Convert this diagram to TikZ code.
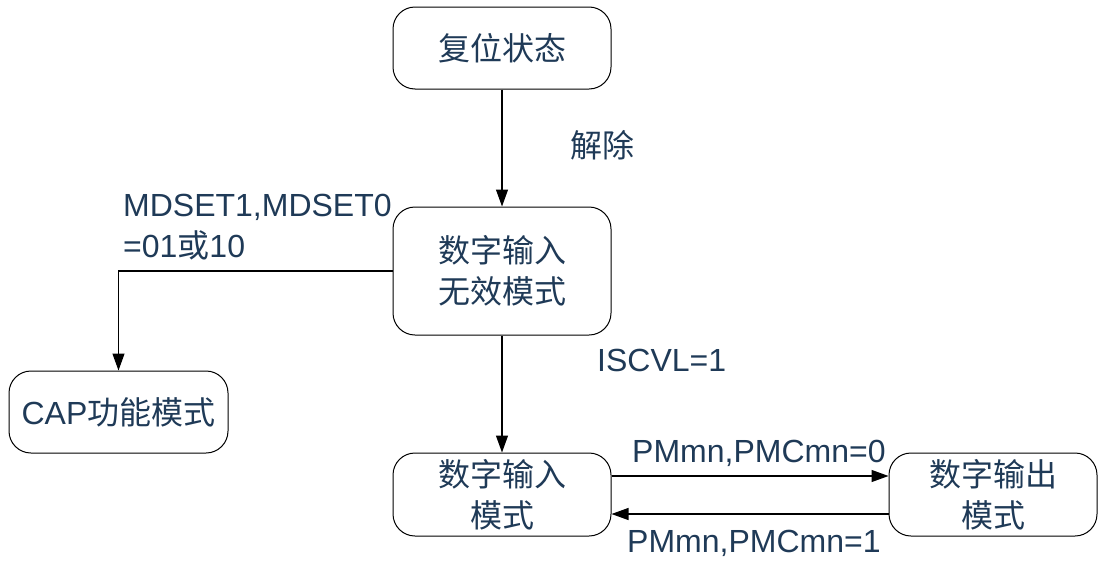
\documentclass[tikz,border=0pt]{standalone}
\usepackage{fontspec}
\setmainfont{Liberation Sans}
\newfontfamily\cjk{Noto Sans CJK SC}
\usetikzlibrary{arrows.meta}
\definecolor{txt}{RGB}{31,58,87}
\newcommand{\zh}[1]{{\cjk #1}}
\begin{document}
\begin{tikzpicture}[x=1pt,y=-1pt,
  state/.style={draw=black, line width=1pt, rounded corners=22pt, inner sep=0pt,
    align=center, text=txt, font=\fontsize{32pt}{41pt}\selectfont},
  lbl/.style={inner sep=0pt, text=txt, align=left, font=\fontsize{32pt}{41pt}\selectfont},
  conn/.style={line width=1.2pt, -{Triangle[length=17pt,width=12pt]}}]
\useasboundingbox (0,0) rectangle (1105,565);
\node[state, minimum width=218pt, minimum height=82pt] (reset) at (502,48) {\zh{复位状态}};
\node[state, minimum width=218pt, minimum height=128pt] (invalid) at (502,271) {\zh{数字输入}\\\zh{无效模式}};
\node[state, minimum width=219pt, minimum height=82pt] (cap) at (118.5,412) {CAP\zh{功能模式}};
\node[state, minimum width=218pt, minimum height=83pt] (input) at (502,494.5) {\zh{数字输入}\\\zh{模式}};
\node[state, minimum width=208pt, minimum height=83pt] (output) at (993,494.5) {\zh{数字输出}\\\zh{模式}};

\draw[conn] (reset) -- (invalid);
\draw[conn] (invalid.west) -| (cap.north);
\draw[conn] (invalid) -- (input);
\draw[conn] ([yshift=18.5pt]input.east) -- ([yshift=18.5pt]input.east -| output.west);
\draw[conn] ([yshift=-19.5pt]input.east -| output.west) -- ([yshift=-19.5pt]input.east);

\node[lbl, anchor=west] (l1) at (570,145) {\zh{解除}};
\node[lbl, anchor=west] (l2) at (123,227.5) {MDSET1,MDSET0\\=01\zh{或}10};
\node[lbl, anchor=west] (l3) at (597,360) {ISCVL=1};
\node[lbl, anchor=west] (l4) at (632,453) {PMmn,PMCmn=0};
\node[lbl, anchor=west] (l5) at (627,543) {PMmn,PMCmn=1};
\end{tikzpicture}
\end{document}
